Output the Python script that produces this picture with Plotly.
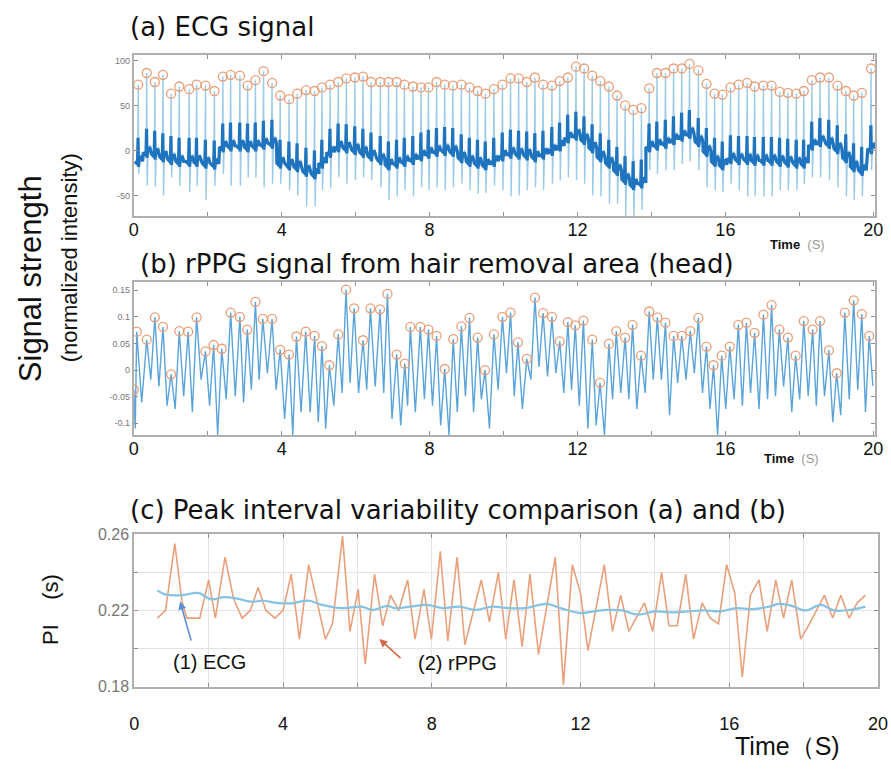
import plotly.graph_objects as go

# ---------------- ECG (panel a): one entry per heartbeat ----------------
ecg_t = [0.12, 0.35, 0.57, 0.79, 1.01, 1.23, 1.50, 1.70, 1.94, 2.18,
         2.41, 2.62, 2.87, 3.08, 3.29, 3.51, 3.74, 3.96, 4.20, 4.42,
         4.66, 4.89, 5.09, 5.31, 5.53, 5.75, 5.98, 6.20, 6.42, 6.67,
         6.89, 7.11, 7.32, 7.55, 7.77, 7.97, 8.19, 8.41, 8.63, 8.86,
         9.08, 9.30, 9.51, 9.74, 9.97, 10.19, 10.41, 10.63, 10.85, 11.07,
         11.31, 11.52, 11.74, 11.96, 12.18, 12.40, 12.62, 12.85, 13.07, 13.29,
         13.51, 13.73, 13.94, 14.15, 14.38, 14.60, 14.82, 15.03, 15.27, 15.49,
         15.71, 15.92, 16.14, 16.36, 16.59, 16.79, 17.03, 17.25, 17.47, 17.69,
         17.92, 18.12, 18.34, 18.56, 18.80, 19.03, 19.26, 19.47, 19.69, 19.94]
ecg_peak = [73, 86, 76, 84, 63, 71, 68, 73, 72, 66,
            82, 84, 83, 72, 78, 88, 75, 61, 57, 63,
            67, 66, 70, 73, 76, 80, 81, 82, 76, 76,
            76, 76, 73, 71, 70, 70, 76, 73, 72, 73,
            70, 66, 63, 68, 73, 80, 80, 76, 81, 73,
            72, 77, 81, 93, 91, 83, 77, 71, 61, 50,
            45, 47, 69, 86, 86, 91, 91, 96, 89, 74,
            63, 62, 70, 73, 75, 71, 72, 72, 65, 64,
            63, 66, 78, 81, 81, 72, 66, 61, 64, 91]
ecg_base = [-12, -2, -4, -7, -10, -12, -12, -12, -14, -15,
            4, 5, 5, 4, 5, 7, 8, -14, -16, -18,
            -23, -26, -14, -2, 4, 3, 1, -2, -6, -10,
            -16, -14, -12, -10, -6, -3, -1, 0, -1, -8,
            -12, -14, -16, -12, -6, -3, -4, -5, -7, -4,
            0, 5, 14, 17, 12, 3, -7, -14, -22, -32,
            -38, -36, 4, 6, 8, 12, 16, 19, 10, -1,
            -12, -16, -9, -10, -10, -11, -11, -11, -12, -13,
            -14, -14, 6, 10, 8, 2, -8, -18, -22, 2]
ecg_trough = [-26, -39, -40, -50, -30, -39, -46, -39, -55, -39,
              -26, -39, -39, -30, -30, -41, -37, -37, -44, -50,
              -62, -62, -44, -42, -30, -37, -33, -30, -33, -41,
              -55, -51, -44, -51, -41, -44, -41, -44, -41, -37,
              -44, -48, -47, -39, -44, -51, -50, -44, -41, -44,
              -37, -33, -30, -33, -37, -50, -51, -59, -59, -73,
              -73, -66, -22, -26, -22, -22, -15, -12, -22, -41,
              -44, -46, -37, -44, -51, -51, -51, -51, -44, -44,
              -44, -37, -30, -30, -33, -41, -51, -55, -51, -22]

# ---------------- rPPG (panel b): detected peaks and the low after each ----------------
rppg_t = [0.00, 0.08, 0.35, 0.57, 0.79, 1.01, 1.23, 1.47, 1.70, 1.94,
          2.16, 2.38, 2.62, 2.87, 3.07, 3.29, 3.49, 3.74, 3.96, 4.20,
          4.40, 4.65, 4.89, 5.09, 5.29, 5.53, 5.74, 5.96, 6.20, 6.40,
          6.66, 6.86, 7.11, 7.33, 7.48, 7.75, 7.97, 8.19, 8.41, 8.64,
          8.86, 9.08, 9.30, 9.50, 9.74, 9.97, 10.19, 10.39, 10.63, 10.85,
          11.07, 11.31, 11.52, 11.74, 11.94, 12.16, 12.40, 12.61, 12.85, 13.05,
          13.29, 13.49, 13.72, 13.94, 14.16, 14.38, 14.60, 14.82, 15.05, 15.27,
          15.49, 15.68, 15.90, 16.12, 16.35, 16.57, 16.79, 17.03, 17.25, 17.46,
          17.69, 17.90, 18.12, 18.36, 18.56, 18.80, 19.01, 19.23, 19.47, 19.69,
          19.89]
rppg_peak = [-0.037, 0.072, 0.057, 0.099, 0.081, -0.008, 0.073, 0.072, 0.099, 0.035,
             0.047, 0.040, 0.108, 0.100, 0.076, 0.128, 0.096, 0.096, 0.038, 0.029,
             0.063, 0.072, 0.064, 0.045, 0.009, 0.067, 0.151, 0.116, 0.056, 0.116,
             0.114, 0.143, 0.029, 0.012, 0.081, 0.081, 0.076, 0.064, 0.002, 0.058,
             0.082, 0.098, 0.061, 0.000, 0.067, 0.100, 0.108, 0.052, 0.021, 0.136,
             0.107, 0.100, 0.054, 0.090, 0.084, 0.093, 0.057, -0.024, 0.049, 0.073,
             0.061, 0.085, 0.027, 0.110, 0.099, 0.089, 0.064, 0.064, 0.073, 0.098,
             0.044, 0.009, 0.027, 0.044, 0.085, 0.089, 0.070, 0.104, 0.122, 0.076,
             0.061, 0.027, 0.092, 0.076, 0.092, 0.037, -0.006, 0.108, 0.131, 0.105,
             0.064]
rppg_low = [-0.110, -0.061, -0.018, -0.031, -0.067, -0.073, -0.049, -0.079, -0.018, -0.067,
            -0.122, -0.055, -0.049, -0.061, -0.037, -0.018, -0.006, -0.037, -0.092, -0.122,
            -0.079, -0.079, -0.098, -0.110, -0.067, -0.043, -0.024, -0.043, -0.037, -0.031,
            -0.043, -0.092, -0.104, -0.067, -0.079, -0.055, -0.067, -0.104, -0.122, -0.079,
            -0.049, -0.079, -0.055, -0.110, -0.037, -0.006, -0.049, -0.073, -0.018, 0.006,
            -0.012, -0.006, -0.043, -0.037, -0.067, -0.110, -0.104, -0.122, -0.055, -0.043,
            -0.055, -0.073, -0.043, -0.018, -0.018, -0.085, -0.024, -0.018, -0.006, -0.043,
            -0.073, -0.122, -0.073, -0.055, -0.067, -0.043, -0.073, -0.055, -0.049, -0.031,
            -0.079, -0.055, -0.049, -0.067, -0.049, -0.098, -0.085, -0.055, -0.037, -0.079,
            -0.030]

# ---------------- Peak intervals (panel c) ----------------
pi_ecg_t = [0.62, 0.84, 1.28, 1.72, 2.07, 2.42, 2.77, 3.12, 3.47, 3.83,
            4.18, 4.70, 5.05, 5.58, 6.10, 6.41, 6.81, 7.00, 7.42, 7.86,
            8.30, 8.74, 9.18, 9.62, 10.06, 10.50, 11.10, 11.46, 12.00, 12.35,
            12.70, 13.12, 13.56, 14.00, 14.44, 14.88, 15.32, 15.75, 16.19, 16.63,
            17.07, 17.33, 17.68, 18.04, 18.47, 18.82, 19.26, 19.66]
pi_ecg = [0.2305, 0.2283, 0.2280, 0.2292, 0.2258, 0.2270, 0.2262, 0.2246, 0.2251, 0.2240,
          0.2237, 0.2251, 0.2229, 0.2212, 0.2220, 0.2203, 0.2224, 0.2212, 0.2220, 0.2229,
          0.2212, 0.2220, 0.2203, 0.2220, 0.2212, 0.2212, 0.2234, 0.2212, 0.2186, 0.2195,
          0.2203, 0.2200, 0.2178, 0.2195, 0.2190, 0.2195, 0.2200, 0.2195, 0.2212, 0.2207,
          0.2220, 0.2234, 0.2224, 0.2200, 0.2229, 0.2200, 0.2203, 0.2220]
pi_rppg_t = [0.62, 0.84, 1.09, 1.28, 1.41, 1.76, 2.00, 2.18, 2.44, 2.67,
             2.90, 3.12, 3.33, 3.54, 3.78, 4.00, 4.22, 4.44, 4.69, 4.90,
             5.14, 5.33, 5.60, 5.80, 6.02, 6.21, 6.46, 6.68, 6.89, 7.11,
             7.35, 7.55, 7.79, 7.99, 8.23, 8.43, 8.68, 8.89, 9.33, 9.55,
             9.79, 9.99, 10.21, 10.43, 10.64, 10.87, 11.32, 11.54, 11.78, 12.00,
             12.20, 12.64, 12.86, 13.08, 13.30, 13.72, 13.94, 14.18, 14.38, 14.60,
             14.83, 15.04, 15.27, 15.49, 15.71, 15.93, 16.15, 16.35, 16.57, 16.80,
             17.02, 17.25, 17.46, 17.68, 17.92, 18.13, 18.35, 18.56, 18.78, 19.00,
             19.22, 19.44, 19.66]
pi_rppg = [0.216, 0.220, 0.255, 0.225, 0.216, 0.216, 0.236, 0.216, 0.248, 0.226,
           0.216, 0.220, 0.232, 0.220, 0.216, 0.220, 0.239, 0.205, 0.244, 0.225,
           0.205, 0.213, 0.259, 0.209, 0.231, 0.192, 0.239, 0.212, 0.228, 0.220,
           0.236, 0.205, 0.231, 0.205, 0.251, 0.204, 0.248, 0.202, 0.236, 0.214,
           0.240, 0.205, 0.236, 0.201, 0.239, 0.197, 0.248, 0.181, 0.244, 0.229,
           0.199, 0.244, 0.209, 0.228, 0.209, 0.224, 0.209, 0.240, 0.212, 0.212,
           0.239, 0.205, 0.224, 0.216, 0.213, 0.244, 0.229, 0.185, 0.228, 0.236,
           0.209, 0.236, 0.216, 0.236, 0.205, 0.212, 0.220, 0.228, 0.216, 0.228,
           0.216, 0.224, 0.228]

x_ticks = [0, 2, 4, 6, 8, 10, 12, 14, 16, 18, 20]
x_tick_text = ["0", "", "4", "", "8", "", "12", "", "16", "", "20"]


# ---- build the ECG trace: a narrow QRS spike per beat riding on the baseline ----
def ecg_full(t, peak, base, trough):
    xs, ys = [], []
    for tb, p, b, s in zip(t, peak, base, trough):
        xs += [tb - 0.07, tb - 0.015, tb, tb + 0.014, tb + 0.035, tb + 0.09, tb + 0.13]
        ys += [b, b - 4, p, s, b, b + 8, b]
    return xs, ys


def ecg_core(t, base):
    # darker low-amplitude part of each beat around the baseline
    xs, ys = [], []
    for tb, b in zip(t, base):
        xs += [tb - 0.09, tb - 0.02, tb - 0.004, tb + 0.006, tb + 0.03, tb + 0.08, tb + 0.12]
        ys += [b, b - 3, b + 26, b - 6, b + 2, b + 6, b]
    return xs, ys


def rppg_wave(t, peak, low):
    xs, ys = [], []
    for i, (tp, p, lo) in enumerate(zip(t, peak, low)):
        nxt = t[i + 1] if i + 1 < len(t) else tp + 0.2
        xs += [tp, tp + 0.5 * (nxt - tp)]
        ys += [p, lo]
    return xs, ys


ex, ey = ecg_full(ecg_t, ecg_peak, ecg_base, ecg_trough)
cx, cy = ecg_core(ecg_t, ecg_base)
rx, ry = rppg_wave(rppg_t, rppg_peak, rppg_low)

PEAK_COL = "#e99d76"
fig = go.Figure()

fig.add_trace(go.Scatter(x=ex, y=ey, mode="lines", line=dict(color="#9ccbea", width=1.4),
                         xaxis="x", yaxis="y", hoverinfo="skip"))
fig.add_trace(go.Scatter(x=cx, y=cy, mode="lines", line=dict(color="#1f74c0", width=3.2),
                         xaxis="x", yaxis="y", hoverinfo="skip"))
fig.add_trace(go.Scatter(x=ecg_t, y=ecg_peak, mode="markers",
                         marker=dict(symbol="circle-open", size=9, color=PEAK_COL,
                                     line=dict(width=1.3)),
                         xaxis="x", yaxis="y"))

fig.add_trace(go.Scatter(x=rx, y=ry, mode="lines", line=dict(color="#5aa4da", width=1.4),
                         xaxis="x2", yaxis="y2", hoverinfo="skip"))
fig.add_trace(go.Scatter(x=rppg_t, y=rppg_peak, mode="markers",
                         marker=dict(symbol="circle-open", size=9, color=PEAK_COL,
                                     line=dict(width=1.3)),
                         xaxis="x2", yaxis="y2"))

fig.add_trace(go.Scatter(x=pi_rppg_t, y=pi_rppg, mode="lines",
                         line=dict(color="#e9a07b", width=1.6), xaxis="x3", yaxis="y3"))
fig.add_trace(go.Scatter(x=pi_ecg_t, y=pi_ecg, mode="lines", line_shape="spline",
                         line=dict(color="#86c2e2", width=2.2), xaxis="x3", yaxis="y3"))

FONT = "Liberation Sans, Arial, sans-serif"
TITLE_FONT = dict(family="DejaVu Sans, Liberation Sans, sans-serif", size=26, color="#111")
frame = dict(showline=True, linecolor="#b0b0b0", linewidth=2, mirror="ticks",
             ticks="inside", ticklen=4, tickcolor="#909090", zeroline=False)
xfont = dict(size=18, color="#111")

fig.update_layout(
    width=891, height=772, margin=dict(l=0, r=0, t=0, b=0),
    paper_bgcolor="white", plot_bgcolor="white", showlegend=False,
    font=dict(family=FONT, color="#111"),
    xaxis=dict(domain=[0.1470, 0.9933], range=[0, 20.05], anchor="y",
               tickvals=x_ticks, ticktext=x_tick_text, showgrid=False,
               ticklabeloverflow="allow", ticklabelstandoff=-4, tickfont=xfont, **frame),
    yaxis=dict(domain=[0.7241, 0.9378], range=[-73, 106], anchor="x",
               tickvals=[-50, 0, 50, 100], ticktext=["-50", "0", "50", "100"],
               showgrid=False, tickfont=dict(size=9, color="#777"), **frame),
    xaxis2=dict(domain=[0.1470, 0.9933], range=[0, 20.05], anchor="y2",
                tickvals=x_ticks, ticktext=x_tick_text, showgrid=False,
                ticklabeloverflow="allow", ticklabelstandoff=-4, tickfont=xfont, **frame),
    yaxis2=dict(domain=[0.4339, 0.6373], range=[-0.1228, 0.1657], anchor="x2",
                tickvals=[-0.1, -0.05, 0, 0.05, 0.1, 0.15],
                ticktext=["-0.1", "-0.05", "0", "0.05", "0.1", "0.15"],
                showgrid=False, tickfont=dict(size=9, color="#777"), **frame),
    xaxis3=dict(domain=[0.1476, 0.9966], range=[0, 20.0], anchor="y3",
                tickvals=x_ticks, ticktext=x_tick_text, showgrid=True,
                gridcolor="#e3e3e3", ticklabeloverflow="allow", ticklabelstandoff=20,
                tickfont=xfont, **frame),
    yaxis3=dict(domain=[0.1010, 0.3031], range=[0.18, 0.26], anchor="x3",
                tickvals=[0.18, 0.20, 0.22, 0.24, 0.26],
                ticktext=["0.18", "", "0.22", "", "0.26"],
                showgrid=True, gridcolor="#e3e3e3",
                tickfont=dict(size=16, color="#777"), **frame),
)

ann = [
    dict(text="(a) ECG signal", x=0.1403, y=0.975, xanchor="left", yanchor="middle",
         font=TITLE_FONT),
    dict(text="(b) rPPG signal from hair removal area (head)", x=0.1515, y=0.6606,
         xanchor="left", yanchor="middle", font=TITLE_FONT),
    dict(text="(c) Peak interval variability comparison (a) and (b)", x=0.1403, y=0.3355,
         xanchor="left", yanchor="middle", font=TITLE_FONT),
    dict(text="Signal strength", x=0.030, y=1 - 277 / 772, textangle=-90,
         xanchor="center", yanchor="middle", font=dict(size=31)),
    dict(text="(normalized intensity)", x=0.074, y=1 - 255 / 772, textangle=-90,
         xanchor="center", yanchor="middle", font=dict(size=22)),
    dict(text="PI    (s)", x=0.052, y=1 - 615 / 772, textangle=-90,
         xanchor="center", yanchor="middle", font=dict(size=22)),
    dict(text="<b>Time</b>  <span style='color:#999'>(S)</span>", x=806 / 891,
         y=1 - 242 / 772, xanchor="center", yanchor="middle", font=dict(size=13)),
    dict(text="<b>Time</b>  <span style='color:#999'>(S)</span>", x=800 / 891,
         y=1 - 461 / 772, xanchor="center", yanchor="middle", font=dict(size=13)),
    dict(text="Time（S)", x=796 / 891, y=1 - 755 / 772, xanchor="center",
         yanchor="middle", font=dict(size=25)),
]
for a in ann:
    a.update(xref="paper", yref="paper", showarrow=False)

# labelled arrows in panel (c)
ann += [
    dict(text="(1) ECG", x=2.02, y=0.1932, xref="x3", yref="y3", showarrow=False,
         font=dict(size=20)),
    dict(text="", x=1.23, y=0.2247, ax=1.54, ay=0.2034, xref="x3", yref="y3",
         axref="x3", ayref="y3", showarrow=True, arrowhead=2, arrowsize=1,
         arrowwidth=1.6, arrowcolor="#5a8fd6"),
    dict(text="(2) rPPG", x=8.70, y=0.1922, xref="x3", yref="y3", showarrow=False,
         font=dict(size=20)),
    dict(text="", x=6.59, y=0.2050, ax=7.20, ay=0.1943, xref="x3", yref="y3",
         axref="x3", ayref="y3", showarrow=True, arrowhead=2, arrowsize=1,
         arrowwidth=1.6, arrowcolor="#d26a4a"),
]
fig.update_layout(annotations=ann)

fig.write_html("out.html")
